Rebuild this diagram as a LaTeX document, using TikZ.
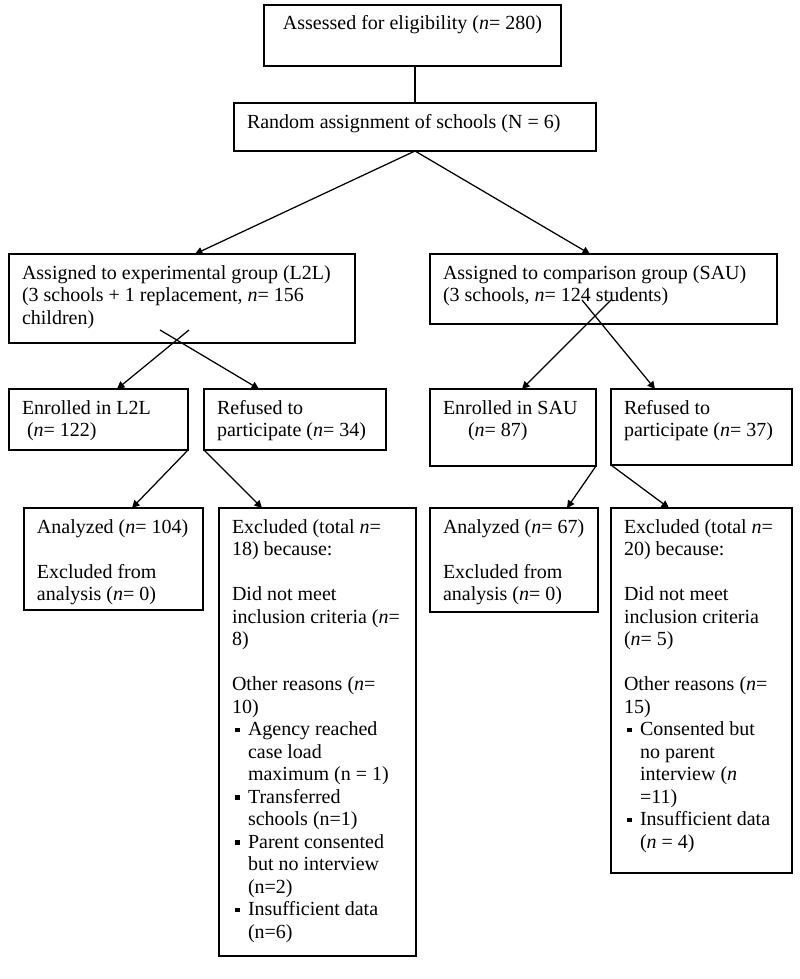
\documentclass[tikz,border=0pt]{standalone}
\usepackage{fontspec}
\setmainfont{Liberation Serif}
\usetikzlibrary{arrows.meta}

% box content: full width, full height, text (top aligned)
\newcommand{\boxtxt}[3]{\parbox[c][\dimexpr#2-11.1pt\relax][t]{\dimexpr#1-15.6pt\relax}{\raggedright\strut#3}}
\newcommand{\sqbullet}{\hspace*{2pt}\rule[2pt]{2.8pt}{2.8pt}\hspace*{4.8pt}}
\newcommand{\sqindent}{\hspace*{9.6pt}}

\begin{document}
\begin{tikzpicture}[x=0.6pt, y=-0.6pt,
    box/.style={draw, line width=0.75pt, anchor=north west, outer sep=0pt,
        inner xsep=7.8pt, inner ysep=5.55pt,
        font=\fontsize{12}{13.5}\selectfont},
    arr/.style={line width=0.75pt, -{Triangle[length=4.5pt,width=4.5pt]}}]
    \useasboundingbox (0,0) rectangle (800,979);

    % Eligibility and randomisation
    \node[box] (assess) at (264,5) {\boxtxt{178.2pt}{36.6pt}{\centering Assessed for eligibility (\textit{n}= 280)}};
    \node[box] (random) at (234,103) {\boxtxt{217.2pt}{28.8pt}{Random assignment of schools (N = 6)}};

    % Allocation
    \node[box] (expgrp) at (9,254) {\boxtxt{207.6pt}{53.4pt}{Assigned to experimental group (L2L)\\(3 schools + 1 replacement, \textit{n}= 156\\children)}};
    \node[box] (cmpgrp) at (430,254) {\boxtxt{208.2pt}{42pt}{Assigned to comparison group (SAU)\\(3 schools, \textit{n}= 124 students)}};

    % Enrolment
    \node[box] (expenrol) at (9,389) {\boxtxt{107.4pt}{36.6pt}{Enrolled in L2L\\\hspace*{3pt}(\textit{n}= 122)}};
    \node[box] (exprefuse) at (204,389) {\boxtxt{109.2pt}{36.6pt}{Refused to\\participate (\textit{n}= 34)}};
    \node[box] (cmpenrol) at (430,389) {\boxtxt{99.6pt}{46.2pt}{Enrolled in SAU\\\hspace*{15pt}(\textit{n}= 87)}};
    \node[box] (cmprefuse) at (611,389) {\boxtxt{108.6pt}{45.6pt}{Refused to\\participate (\textit{n}= 37)}};

    % Analysis
    \node[box] (expanalyzed) at (24,508) {\boxtxt{107.4pt}{61.2pt}{Analyzed (\textit{n}= 104)\\[13.5pt]Excluded from\\analysis (\textit{n}= 0)}};
    \node[box] (expexcluded) at (219,508) {\boxtxt{118.2pt}{268.8pt}{Excluded (total \textit{n}=\\18) because:\\[13.5pt]Did not meet\\inclusion criteria (\textit{n}=\\8)\\[13.5pt]Other reasons (\textit{n}=\\10)\\\sqbullet Agency reached\\\sqindent case load\\\sqindent maximum (n = 1)\\\sqbullet Transferred\\\sqindent schools (n=1)\\\sqbullet Parent consented\\\sqindent but no interview\\\sqindent (n=2)\\\sqbullet Insufficient data\\\sqindent (n=6)}};
    \node[box] (cmpanalyzed) at (430,508) {\boxtxt{100.8pt}{62.4pt}{Analyzed (\textit{n}= 67)\\[13.5pt]Excluded from\\analysis (\textit{n}= 0)}};
    \node[box] (cmpexcluded) at (611,508) {\boxtxt{108.6pt}{219pt}{Excluded (total \textit{n}=\\20) because:\\[13.5pt]Did not meet\\inclusion criteria\\(\textit{n}= 5)\\[13.5pt]Other reasons (\textit{n}=\\15)\\\sqbullet Consented but\\\sqindent no parent\\\sqindent interview (\textit{n}\\\sqindent =11)\\\sqbullet Insufficient data\\\sqindent (\textit{n} = 4)}};

    % Connectors
    \draw[line width=0.75pt] (random.north |- assess.south) -- (random.north);
    \draw[arr] (random.south) -- ([xshift=7.8pt]expgrp.north);
    \draw[arr] (random.south) -- ([xshift=-8.1pt]cmpgrp.north);

    \draw[arr] ([xshift=-13.2pt,yshift=7.8pt]expgrp.south) -- ([xshift=-21.6pt]exprefuse.north);
    \draw[arr] ([xshift=4.2pt,yshift=7.8pt]expgrp.south) -- ([xshift=11.1pt]expenrol.north);
    \draw[arr] ([xshift=-12.9pt,yshift=14.4pt]cmpgrp.south) -- ([xshift=-27.9pt]cmprefuse.north);
    \draw[arr] ([xshift=4.5pt,yshift=14.4pt]cmpgrp.south) -- ([xshift=5.4pt]cmpenrol.north);

    \draw[arr] (expenrol.south east) -- ([xshift=11.1pt]expanalyzed.north);
    \draw[arr] (exprefuse.south west) -- ([xshift=-33.3pt]expexcluded.north);
    \draw[arr] (cmpenrol.south east) -- ([xshift=31.8pt]cmpanalyzed.north);
    \draw[arr] (cmprefuse.south west) -- ([xshift=-19.5pt]cmpexcluded.north);
\end{tikzpicture}
\end{document}
